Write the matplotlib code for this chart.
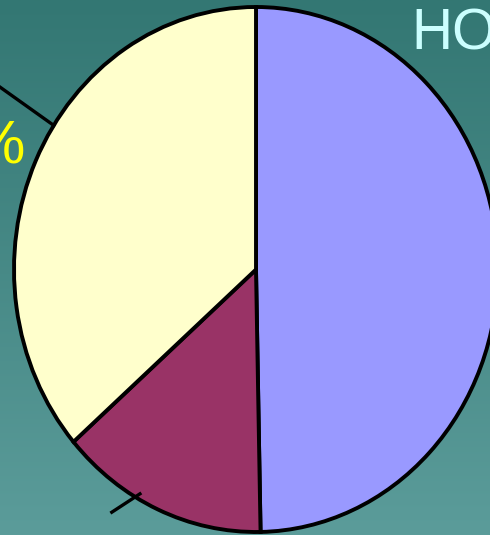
import numpy as np
import matplotlib.pyplot as plt
from matplotlib.colors import LinearSegmentedColormap

# datos del grafico
categorias = ['Grupo A', 'Grupo B', 'Grupo C']
porcentajes = [49.7, 13.9, 36.4]
colores = ['#9999ff', '#993366', '#ffffcc']
etiqueta_izq = '36%'
titulo = 'HOSPITAL'

fig = plt.figure(figsize=(4.9, 5.35), dpi=100)

# fondo con degradado
fondo = fig.add_axes([0, 0, 1, 1])
degradado = LinearSegmentedColormap.from_list('fondo', ['#337773', '#5b9c9a'])
fondo.imshow(np.linspace(0, 1, 256).reshape(-1, 1), cmap=degradado, aspect='auto',
             extent=[0, 1, 0, 1], origin='upper')
fondo.set_xlim(0, 1)
fondo.set_ylim(0, 1)
fondo.axis('off')

# pastel (ligeramente eliptico)
ax = fig.add_axes([14 / 490, 3 / 535, 484 / 490, 525 / 535])
ax.pie(porcentajes, colors=colores, startangle=90, counterclock=False,
       wedgeprops=dict(edgecolor='black', linewidth=2.8))
ax.set_aspect('auto')
ax.set_xlim(-1, 1)
ax.set_ylim(-1, 1)
ax.axis('off')

# lineas guia
a = np.deg2rad(146.7)
ax.plot([np.cos(a), 1.27 * np.cos(a)], [np.sin(a), 1.27 * np.sin(a)],
        color='black', lw=2.4, clip_on=False)
a1, a2 = np.deg2rad(240.7), np.deg2rad(237.2)
ax.plot([0.98 * np.cos(a1), 1.1 * np.cos(a2)], [0.98 * np.sin(a1), 1.1 * np.sin(a2)],
        color='black', lw=2.4, clip_on=False)

# textos
fig.text(26 / 490, 1 - 163 / 535, etiqueta_izq, color='#ffff00', fontsize=44,
         ha='right', va='baseline', family=['Liberation Sans', 'DejaVu Sans'])
fig.text(411 / 490, 1 - 50 / 535, titulo, color='#ccffff', fontsize=41,
         ha='left', va='baseline', family=['Liberation Sans Narrow', 'Liberation Sans'])

fig.savefig('out.png', dpi=100)
